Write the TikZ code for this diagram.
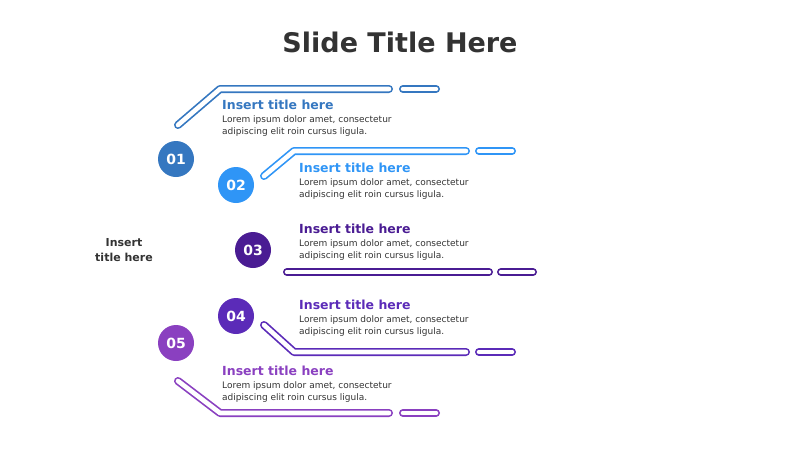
\documentclass[tikz,border=0pt]{standalone}
\usepackage{fontspec}
\setmainfont{DejaVu Sans}
\definecolor{cA}{HTML}{3577C0}
\definecolor{cB}{HTML}{2F95F6}
\definecolor{cC}{HTML}{4A1C93}
\definecolor{cD}{HTML}{5B2BB8}
\definecolor{cE}{HTML}{8A40C0}
\definecolor{txt}{HTML}{333333}
\tikzset{
 bar/.style={line width=8pt,line cap=round,line join=round,draw=#1,
   postaction={draw=white,line width=4.6pt}},
 num/.style={circle,fill=#1,minimum size=36pt,inner sep=0pt,text=white,font=\fontsize{14}{14}\selectfont\bfseries},
 ttl/.style={anchor=west,text=#1,font=\fontsize{12.5}{13}\selectfont\bfseries,inner sep=0pt},
 body/.style={anchor=north west,text=txt,font=\fontsize{9}{12}\selectfont,inner sep=0pt,align=left}
}
\begin{document}
\begin{tikzpicture}[x=1pt,y=-1pt]
\useasboundingbox (0,0) rectangle (800,450);
\node[text=txt,font=\fontsize{27}{30}\selectfont\bfseries] (title) at (400,42) {Slide Title Here};
\node[text=txt,font=\fontsize{11}{15}\selectfont\bfseries,align=center] (left) at (124,250) {Insert\\title here};
% bars
\draw[bar=cA] (178,125) -- (220,89) -- (389,89);
\draw[bar=cA] (403,89) -- (436,89);
\draw[bar=cB] (264,176) -- (294,151) -- (466,151);
\draw[bar=cB] (479,151) -- (512,151);
\draw[bar=cC] (287,272) -- (489,272);
\draw[bar=cC] (501,272) -- (533,272);
\draw[bar=cD] (264,325) -- (294,352) -- (466,352);
\draw[bar=cD] (479,352) -- (512,352);
\draw[bar=cE] (178,381) -- (220,413) -- (389,413);
\draw[bar=cE] (403,413) -- (436,413);
% circles
\node[num=cA] (n1) at (176,159) {01};
\node[num=cB] (n2) at (236,185) {02};
\node[num=cC] (n3) at (253,250) {03};
\node[num=cD] (n4) at (236,316) {04};
\node[num=cE] (n5) at (176,343) {05};
% texts
\node[ttl=cA] (t1) at (222,105) {Insert title here};
\node[body] (b1) at (222,115) {Lorem ipsum dolor amet, consectetur\\adipiscing elit roin cursus ligula.};
\node[ttl=cB] (t2) at (299,168) {Insert title here};
\node[body] (b2) at (299,178) {Lorem ipsum dolor amet, consectetur\\adipiscing elit roin cursus ligula.};
\node[ttl=cC] (t3) at (299,229) {Insert title here};
\node[body] (b3) at (299,239) {Lorem ipsum dolor amet, consectetur\\adipiscing elit roin cursus ligula.};
\node[ttl=cD] (t4) at (299,305) {Insert title here};
\node[body] (b4) at (299,315) {Lorem ipsum dolor amet, consectetur\\adipiscing elit roin cursus ligula.};
\node[ttl=cE] (t5) at (222,371) {Insert title here};
\node[body] (b5) at (222,381) {Lorem ipsum dolor amet, consectetur\\adipiscing elit roin cursus ligula.};
\end{tikzpicture}
\end{document}
